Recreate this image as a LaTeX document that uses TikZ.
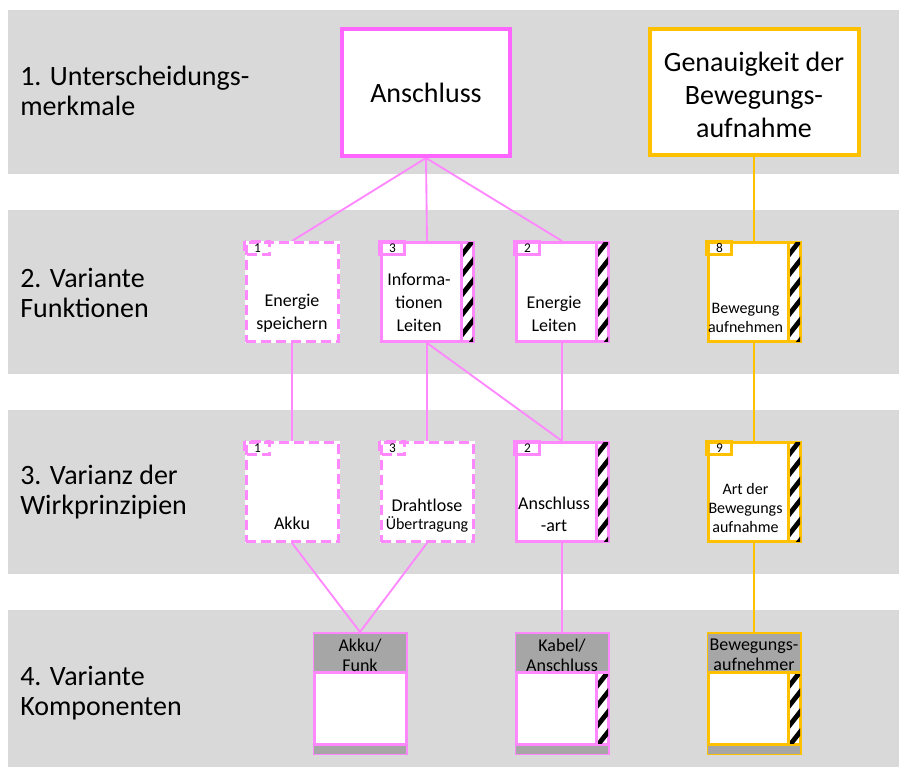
\documentclass[tikz,border=0pt]{standalone}
\usepackage{fontspec}
\setmainfont{Carlito}
\definecolor{band}{HTML}{D9D9D9}
\definecolor{pinkA}{HTML}{FF66FF}
\definecolor{pinkB}{HTML}{FF88FF}
\definecolor{orng}{HTML}{FFC000}
\definecolor{hdr}{HTML}{A6A6A6}

\pgfdeclarelayer{bands}
\pgfdeclarelayer{links}
\pgfsetlayers{bands,links,main}

% diagonal black/white strip at the right edge of a box
% #1 = upper right corner, #2 = lower right corner, #3 = border colour
\newcommand\hatchstrip[3]{%
  \begin{scope}
    \clip ([shift={(-11.5,1.5)}]#1) rectangle ([shift={(-1.5,-1.5)}]#2);
    \foreach \k in {-1,...,7}
      \draw[black, line width=3.6pt]
        ([shift={(-16,\k*20+18)}]#1) -- ++(22,-28);
  \end{scope}
  \draw[#3, line width=2.25pt] ([shift={(-13,0)}]#1) -- ([shift={(-13,0)}]#2);
}

% header and footer bars of a component box: #1 node, #2 border colour
\newcommand\compbars[2]{%
  \fill[hdr] ([shift={(1.5,1.5)}]#1.north west) rectangle ([shift={(-1.5,40.5)}]#1.north east);
  \fill[hdr] ([shift={(1.5,-10.5)}]#1.south west) rectangle ([shift={(-1.5,-1.5)}]#1.south east);
  \draw[#2, line width=2.25pt] ([shift={(0,40.5)}]#1.north west) -- ([shift={(0,40.5)}]#1.north east);
  \draw[#2, line width=2.25pt] ([shift={(0,-10.5)}]#1.south west) -- ([shift={(0,-10.5)}]#1.south east);
  \coordinate (#1-bodytop) at ([shift={(0,40.5)}]#1.north east);
  \coordinate (#1-bodybot) at ([shift={(0,-10.5)}]#1.south east);
}

\begin{document}
\begin{tikzpicture}[x=0.75pt,y=-0.75pt,
  lbl/.style={anchor=west, align=left, inner sep=0, font=\fontsize{21}{22.5}\selectfont},
  headbox/.style={draw=#1, line width=3pt, fill=white, inner sep=0},
  cell/.style={draw=#1, line width=2.25pt, fill=white, inner sep=0,
    minimum width=92*0.75pt, minimum height=99*0.75pt},
  dashedcell/.style={cell=#1, dash pattern=on 7.5pt off 3.75pt,
    preaction={draw=white, solid, line width=2.25pt}},
  comp/.style={draw=#1, line width=2.25pt, fill=white, inner sep=0,
    minimum width=92*0.75pt, minimum height=120*0.75pt},
  tabsolid/.style={draw=#1, line width=2.25pt},
  tabdashed/.style={draw=#1, line width=2.25pt, dash pattern=on 7.5pt off 3.75pt},
  num/.style={inner sep=0, font=\fontsize{10}{11}\selectfont},
  big/.style={align=center, inner sep=0, font=\fontsize{21}{24.75}\selectfont},
  txt/.style={align=center, inner sep=0, font=\fontsize{13.5}{17.25}\selectfont},
  hdrtxt/.style={align=center, inner sep=0, font=\fontsize{13.5}{15}\selectfont},
  small/.style={align=center, inner sep=0, font=\fontsize{12}{14.25}\selectfont},
  conP/.style={draw=pinkB, line width=1.4pt},
  conO/.style={draw=orng, line width=1.4pt},
]
\useasboundingbox (0,0) rectangle (899,767);

% level bands
\begin{pgfonlayer}{bands}
\fill[band] (8,10)  rectangle (899,174);
\fill[band] (8,210) rectangle (899,374);
\fill[band] (8,410) rectangle (899,574);
\fill[band] (8,610) rectangle (899,767);
\end{pgfonlayer}

% level titles
\node[lbl] (l1) at (20,91)    {1. Unterscheidungs-\\merkmale};
\node[lbl] (l2) at (20,292.5) {2. Variante\\Funktionen};
\node[lbl] (l3) at (20,492.5) {3. Varianz der\\Wirkprinzipien};
\node[lbl] (l4) at (20,693)   {4. Variante\\Komponenten};

% level 1: distinguishing features
\node[headbox=pinkA, minimum width=168*0.75pt, minimum height=127*0.75pt] (m1) at (426,92.5) {};
\node[headbox=orng,  minimum width=209*0.75pt, minimum height=126*0.75pt] (m2) at (754,92) {};
\node[big] (m1t) at (426,93) {Anschluss};
\node[big] (m2t) at (754,95) {Genauigkeit der\\Bewegungs-\\aufnahme};

% level 2: functions
\node[dashedcell=pinkB] (f1) at (292,292) {};
\node[cell=pinkB]       (f2) at (427,292) {};
\node[cell=pinkB]       (f3) at (562,292) {};
\node[cell=orng]        (f4) at (754,292) {};

% level 3: working principles
\node[dashedcell=pinkB] (w1) at (292,492) {};
\node[dashedcell=pinkB] (w2) at (427,492) {};
\node[cell=pinkB]       (w3) at (562,492) {};
\node[cell=orng]        (w4) at (754,492) {};

% level 4: components
\node[comp=pinkB] (k1) at (360,693.5) {};
\node[comp=pinkB] (k2) at (562,693.5) {};
\node[comp=orng]  (k3) at (754,693.5) {};

% connectors
\begin{pgfonlayer}{links}
\draw[conP] (m1.south) -- (f1.north);
\draw[conP] (m1.south) -- (f2.north);
\draw[conP] (m1.south) -- (f3.north);
\draw[conO] (m2.south) -- (f4.north);
\draw[conP] (f1.south) -- (w1.north);
\draw[conP] (f2.south) -- (w2.north);
\draw[conP] (f2.south) -- (w3.north);
\draw[conP] (f3.south) -- (w3.north);
\draw[conO] (f4.south) -- (w4.north);
\draw[conP] (w1.south) -- (k1.north);
\draw[conP] (w2.south) -- (k1.north);
\draw[conP] (w3.south) -- (k2.north);
\draw[conO] (w4.south) -- (k3.north);
\end{pgfonlayer}

% striped strips
\hatchstrip{f2.north east}{f2.south east}{pinkB}
\hatchstrip{f3.north east}{f3.south east}{pinkB}
\hatchstrip{f4.north east}{f4.south east}{orng}
\hatchstrip{w3.north east}{w3.south east}{pinkB}
\hatchstrip{w4.north east}{w4.south east}{orng}

% component headers, footers and strips
\compbars{k1}{pinkB}
\compbars{k2}{pinkB}
\compbars{k3}{orng}
\hatchstrip{k2-bodytop}{k2-bodybot}{pinkB}
\hatchstrip{k3-bodytop}{k3-bodybot}{orng}

% number tabs
\draw[tabdashed=pinkB] (f1.north west) rectangle ++(25,13);
\draw[tabsolid=pinkB]  (f2.north west) rectangle ++(25,13);
\draw[tabsolid=pinkB]  (f3.north west) rectangle ++(25,13);
\draw[tabsolid=orng]   (f4.north west) rectangle ++(25,13);
\draw[tabdashed=pinkB] (w1.north west) rectangle ++(25,13);
\draw[tabdashed=pinkB] (w2.north west) rectangle ++(25,13);
\draw[tabsolid=pinkB]  (w3.north west) rectangle ++(25,13);
\draw[tabsolid=orng]   (w4.north west) rectangle ++(25,13);
\node[num] (n1) at ([shift={(13,6.8)}]f1.north west) {1};
\node[num] (n2) at ([shift={(13,6.8)}]f2.north west) {3};
\node[num] (n3) at ([shift={(13,6.8)}]f3.north west) {2};
\node[num] (n4) at ([shift={(13,6.8)}]f4.north west) {8};
\node[num] (n5) at ([shift={(13,6.8)}]w1.north west) {1};
\node[num] (n6) at ([shift={(13,6.8)}]w2.north west) {3};
\node[num] (n7) at ([shift={(13,6.8)}]w3.north west) {2};
\node[num] (n8) at ([shift={(13,6.8)}]w4.north west) {9};

% texts of level 2
\node[txt]   (f1t) at (292,313.5) {Energie\\speichern};
\node[txt]   (f2t) at (419,302.5) {Informa-\\tionen\\Leiten};
\node[txt]   (f3t) at (554,313.5) {Energie\\Leiten};
\node[small] (f4t) at (745.5,317.5) {Bewegung\\aufnehmen};

% texts of level 3
\node[txt]   (w1t) at (292,523) {Akku};
\node[txt]   (w2t) at (427,505) {Drahtlose};
\node[small] (w2u) at (427,524) {Übertragung};
\node[txt, font=\fontsize{13.5}{16.5}\selectfont] (w3t) at (554,514) {Anschluss\\-art};
\node[small] (w4t) at (745.5,508) {Art der\\Bewegungs\\aufnahme};

% texts of level 4
\node[hdrtxt] (k1t) at (360,655) {Akku/\\Funk};
\node[hdrtxt] (k2t) at (562,655) {Kabel/\\Anschluss};
\node[hdrtxt] (k3t) at (754,655) {Bewegungs-\\aufnehmer};
\end{tikzpicture}
\end{document}
